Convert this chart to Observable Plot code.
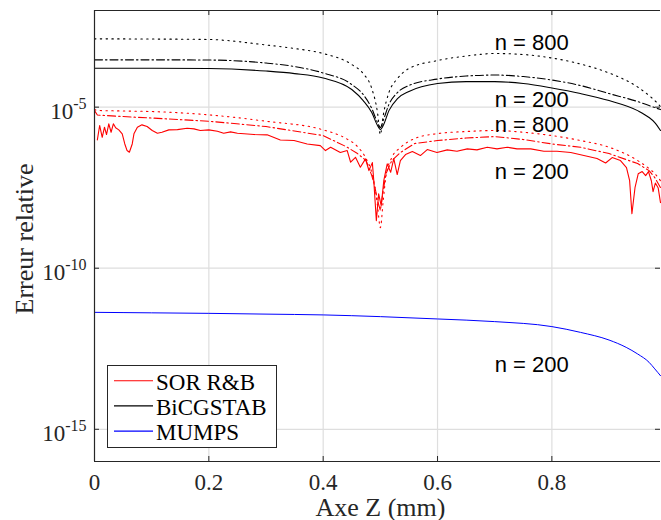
<!DOCTYPE html>
<html><head><meta charset="utf-8">
<script src="https://cdn.jsdelivr.net/npm/d3@7"></script>
<script src="https://cdn.jsdelivr.net/npm/@observablehq/plot@0.6"></script>
<style>
html,body{margin:0;padding:0;background:#fff;overflow:hidden}
#wrap{position:relative;width:661px;height:520px}
</style></head><body><div id="wrap"></div>
<script>
// ---- data ----
const xDomain = [0, 0.99];
const yDomain = [1e-16, 1e-2];
const xTicks = [0, 0.2, 0.4, 0.6, 0.8];
const yTicks = [1e-15, 1e-10, 1e-5];
const xLabel = "Axe Z (mm)";
const yLabel = "Erreur relative";

const bicgX = [0, 0.1, 0.2, 0.3, 0.35, 0.4, 0.45, 0.47, 0.485, 0.495, 0.5, 0.505, 0.515, 0.53, 0.55, 0.6, 0.65, 0.7, 0.75, 0.8, 0.85, 0.9, 0.95, 0.97, 0.98, 0.99];
const bicgSolid = [1.61e-4, 1.61e-4, 1.58e-4, 1.32e-4, 1.10e-4, 8.0e-5, 3.52e-5, 1.60e-5, 6.8e-6, 2.7e-6, 2.01e-6, 2.7e-6, 7.8e-6, 1.85e-5, 3.05e-5, 5.4e-5, 6.2e-5, 6.2e-5, 5.4e-5, 3.92e-5, 2.64e-5, 1.60e-5, 7.8e-6, 4.75e-6, 3.33e-6, 1.88e-6];
const bicgDashDot = [2.94e-4, 2.94e-4, 2.90e-4, 2.34e-4, 1.82e-4, 1.15e-4, 5.04e-5, 2.46e-5, 9.1e-6, 3.33e-6, 2.32e-6, 3.84e-6, 1.21e-5, 2.84e-5, 4.69e-5, 7.46e-5, 9.25e-5, 9.93e-5, 8.9e-5, 6.95e-5, 4.69e-5, 2.64e-5, 1.49e-5, 1.12e-5, 9.7e-6, 8.4e-6];
const bicgDotted = [1.32e-3, 1.30e-3, 1.26e-3, 8.5e-4, 6.6e-4, 4.62e-4, 2.10e-4, 1.10e-4, 3.78e-5, 6.8e-6, 1.41e-6, 5.5e-6, 2.84e-5, 7.73e-5, 1.58e-4, 2.8e-4, 3.86e-4, 4.62e-4, 4.3e-4, 3.35e-4, 2.18e-4, 1.15e-4, 4.21e-5, 2.29e-5, 1.60e-5, 1.04e-5];

const sorX = [0, 0.005, 0.05, 0.1, 0.2, 0.3, 0.4, 0.44, 0.46, 0.475, 0.485, 0.49, 0.495, 0.5, 0.505, 0.51, 0.52, 0.535, 0.56, 0.6, 0.65, 0.7, 0.75, 0.8, 0.85, 0.9, 0.95, 0.97, 0.98, 0.99];
const sorDotted = [8.4e-6, 7.9e-6, 7.6e-6, 7.3e-6, 5.77e-6, 3.65e-6, 1.97e-6, 1.06e-6, 5.97e-7, 2.53e-7, 9.3e-8, 3.67e-8, 8.8e-9, 1.82e-9, 1.26e-8, 7.5e-8, 2.72e-7, 5.56e-7, 1.06e-6, 1.51e-6, 1.75e-6, 1.88e-6, 1.66e-6, 1.31e-6, 9.2e-7, 5.7e-7, 2.2e-7, 1.24e-7, 8.7e-8, 5.2e-8];
const sorDashDot = [7.8e-6, 5.68e-6, 5.11e-6, 4.59e-6, 3.65e-6, 2.5e-6, 1.31e-6, 5.97e-7, 3.62e-7, 2.2e-7, 7.5e-8, 3.67e-8, 1.26e-8, 6.2e-9, 2.57e-8, 8.7e-8, 2.2e-7, 3.89e-7, 7.4e-7, 9.2e-7, 1.1e-6, 1.22e-6, 9.9e-7, 7.2e-7, 5.7e-7, 3.62e-7, 1.77e-7, 1.07e-7, 6.5e-8, 3.18e-8];

const sorSolidX = [0.005, 0.009, 0.0135, 0.0175, 0.021, 0.025, 0.029, 0.033, 0.037, 0.0425, 0.0485, 0.053, 0.057, 0.061, 0.066, 0.069, 0.075, 0.083, 0.092, 0.101, 0.11, 0.118, 0.13, 0.145, 0.162, 0.174, 0.185, 0.2, 0.215, 0.226, 0.238, 0.25, 0.279, 0.302, 0.325, 0.349, 0.372, 0.395, 0.404, 0.413, 0.43, 0.442, 0.448, 0.4565, 0.465, 0.474, 0.48, 0.486, 0.4885, 0.493, 0.497, 0.5015, 0.506, 0.512, 0.518, 0.5235, 0.5295, 0.535, 0.544, 0.556, 0.57, 0.582, 0.599, 0.617, 0.634, 0.652, 0.669, 0.687, 0.704, 0.722, 0.739, 0.763, 0.786, 0.809, 0.833, 0.856, 0.879, 0.894, 0.9055, 0.92, 0.9305, 0.936, 0.940, 0.9455, 0.951, 0.958, 0.964, 0.969, 0.974, 0.977, 0.981, 0.986, 0.99];
const sorSolid = [9.6e-7, 2.7e-6, 1.16e-6, 2.38e-6, 1.41e-6, 3.03e-6, 1.66e-6, 3.03e-6, 2.28e-6, 1.97e-6, 1.48e-6, 7.2e-7, 4.49e-7, 3.97e-7, 7.2e-7, 1.48e-6, 2.38e-6, 2.82e-6, 2.5e-6, 1.88e-6, 1.55e-6, 1.66e-6, 1.97e-6, 2.01e-6, 2.21e-6, 2.12e-6, 1.88e-6, 1.97e-6, 1.79e-6, 1.55e-6, 1.71e-6, 1.55e-6, 1.41e-6, 1.38e-6, 9.6e-7, 9.2e-7, 7.2e-7, 6.4e-7, 4.49e-7, 5.7e-7, 3.89e-7, 4.49e-7, 1.95e-7, 2.78e-7, 1.36e-7, 2.48e-7, 1.07e-7, 1.9e-7, 5.2e-8, 3.0e-9, 2.03e-8, 8.8e-9, 5.2e-8, 1.73e-7, 9.5e-8, 2.53e-7, 8.1e-8, 2.2e-7, 3.37e-7, 4.18e-7, 3.14e-7, 4.82e-7, 3.89e-7, 4.72e-7, 4.27e-7, 5.07e-7, 4.72e-7, 5.7e-7, 5.07e-7, 5.7e-7, 5.07e-7, 5.07e-7, 4.27e-7, 4.27e-7, 3.89e-7, 3.14e-7, 2.53e-7, 1.84e-7, 2.72e-7, 2.2e-7, 1.33e-7, 5.2e-8, 4.9e-9, 3.25e-8, 8.5e-8, 1.0e-7, 7.5e-8, 1.0e-7, 5.2e-8, 2.39e-8, 4.4e-8, 3.07e-8, 1.09e-8];

const mumpsX = [0, 0.1, 0.2, 0.3, 0.4, 0.5, 0.6, 0.7, 0.8, 0.85, 0.9, 0.93, 0.95, 0.97, 0.98, 0.99];
const mumps = [4.27e-12, 4.12e-12, 3.97e-12, 3.76e-12, 3.55e-12, 3.14e-12, 2.66e-12, 2.2e-12, 1.54e-12, 1.02e-12, 5.9e-13, 3.49e-13, 2.18e-13, 1.2e-13, 7.5e-14, 4.6e-14];

const noteText = ["n = 800", "n = 200", "n = 800", "n = 200", "n = 200"];
const noteX = [0.7, 0.7, 0.7, 0.7, 0.7];
const noteY = [1e-3, 1.66e-5, 2.9e-6, 1e-7, 1e-13];

const legendLabels = ["SOR R&B", "BiCGSTAB", "MUMPS"];
const legendColors = ["#ff0000", "#000000", "#0000ff"];

// ---- build ----
const pts = (xs, ys) => xs.map((x, i) => ({x, y: ys[i]}));
const notes = noteText.map((t, i) => ({t, x: noteX[i], y: noteY[i]}));
const axisColor = "#262626";
const gridColor = "#dedede";
const W = 661, H = 520, mL = 94, mR = 1, mT = 10, mB = 59;
const plotW = W - mL - mR, plotH = H - mT - mB;
const DOT = "1.4,4.4", DASHDOT = "8,3,1.5,3";
const SERIF = "'Liberation Serif','Times New Roman',serif";

const chart = Plot.plot({
  width: W, height: H, marginLeft: mL, marginRight: mR, marginTop: mT, marginBottom: mB,
  x: {domain: xDomain},
  y: {type: "log", domain: yDomain},
  style: {fontFamily: SERIF, fontSize: "23px", background: "white", color: "#262626", overflow: "visible"},
  marks: [
    Plot.ruleX(xTicks.slice(1), {stroke: gridColor, strokeWidth: 1.2}),
    Plot.ruleY(yTicks, {stroke: gridColor, strokeWidth: 1.2}),
    Plot.line(pts(mumpsX, mumps), {x: "x", y: "y", stroke: "#0000ff", strokeWidth: 1, curve: "monotone-x"}),
    Plot.line(pts(bicgX, bicgDotted), {x: "x", y: "y", stroke: "#000", strokeWidth: 1.1, strokeDasharray: DOT, curve: "monotone-x"}),
    Plot.line(pts(bicgX, bicgDashDot), {x: "x", y: "y", stroke: "#000", strokeWidth: 1.1, strokeDasharray: DASHDOT, curve: "monotone-x"}),
    Plot.line(pts(bicgX, bicgSolid), {x: "x", y: "y", stroke: "#000", strokeWidth: 1.1, curve: "monotone-x"}),
    Plot.line(pts(sorX, sorDotted), {x: "x", y: "y", stroke: "#ff0000", strokeWidth: 1.1, strokeDasharray: DOT, curve: "monotone-x"}),
    Plot.line(pts(sorX, sorDashDot), {x: "x", y: "y", stroke: "#ff0000", strokeWidth: 1.1, strokeDasharray: DASHDOT}),
    Plot.line(pts(sorSolidX, sorSolid), {x: "x", y: "y", stroke: "#ff0000", strokeWidth: 1.1}),
    Plot.text(notes, {x: "x", y: "y", text: "t", textAnchor: "start", fontFamily: "'Liberation Sans',Arial,sans-serif", fontSize: 22, fill: "#000"}),
    // frame lines (left, top, bottom)
    Plot.ruleX([xDomain[0]], {stroke: axisColor, strokeWidth: 1.2}),
    Plot.ruleY(yDomain, {stroke: axisColor, strokeWidth: 1.2}),
    // inward ticks
    Plot.ruleX(xTicks, {stroke: axisColor, insetBottom: plotH - 5}),
    Plot.ruleX(xTicks, {stroke: axisColor, insetTop: plotH - 5}),
    Plot.ruleY(yTicks, {stroke: axisColor, insetRight: plotW - 5}),
    Plot.ruleY(yTicks, {stroke: axisColor, insetLeft: plotW - 5}),
    Plot.axisX({ticks: xTicks, tickSize: 0, tickPadding: 12, tickFormat: d => d === 0 ? "0" : String(d), label: null, fontSize: 23, fill: "#262626"}),
    Plot.axisY({ticks: yTicks, tickSize: 0, tickPadding: 8, dy: 4, tickFormat: d => String(Math.round(Math.log10(d))), label: null, fontSize: 23, fill: "#262626"}),
    Plot.text([xLabel], {text: d => d, frameAnchor: "bottom", textAnchor: "middle", dx: 3, dy: 54, lineAnchor: "bottom", fontSize: 26, fill: "#262626"}),
    Plot.text([yLabel], {text: d => d, frameAnchor: "left", textAnchor: "middle", dx: -62, dy: 3, rotate: -90, lineAnchor: "bottom", fontSize: 26, fill: "#262626"})
  ]
});

// superscript exponents for the log axis labels: 10^-5 etc.
chart.querySelectorAll('g[aria-label="y-axis tick label"] text').forEach(t => {
  const e = t.textContent;
  t.textContent = "10";
  const ts = document.createElementNS("http://www.w3.org/2000/svg", "tspan");
  ts.setAttribute("dy", "-10");
  ts.setAttribute("font-size", "16");
  ts.textContent = e;
  t.appendChild(ts);
});

const wrap = document.getElementById("wrap");
wrap.appendChild(chart);

// legend box inside the plot area (lower left)
const leg = d3.create("svg").attr("width", W).attr("height", H)
  .style("position", "absolute").style("left", "0px").style("top", "0px");
leg.append("rect").attr("x", 107.5).attr("y", 365.5).attr("width", 169).attr("height", 82)
  .attr("fill", "white").attr("stroke", axisColor).attr("stroke-width", 1);
const row = leg.selectAll("g").data(legendLabels).join("g")
  .attr("transform", (d, i) => `translate(0,${380.7 + i * 25.2})`);
row.append("line").attr("x1", 114).attr("x2", 153).attr("y1", 0).attr("y2", 0)
  .attr("stroke", (d, i) => legendColors[i]).attr("stroke-width", 1.1);
row.append("text").attr("x", 156).attr("y", 9).text(d => d)
  .attr("font-family", SERIF).attr("font-size", 23).attr("fill", "#000");
wrap.appendChild(leg.node());
</script></body></html>
